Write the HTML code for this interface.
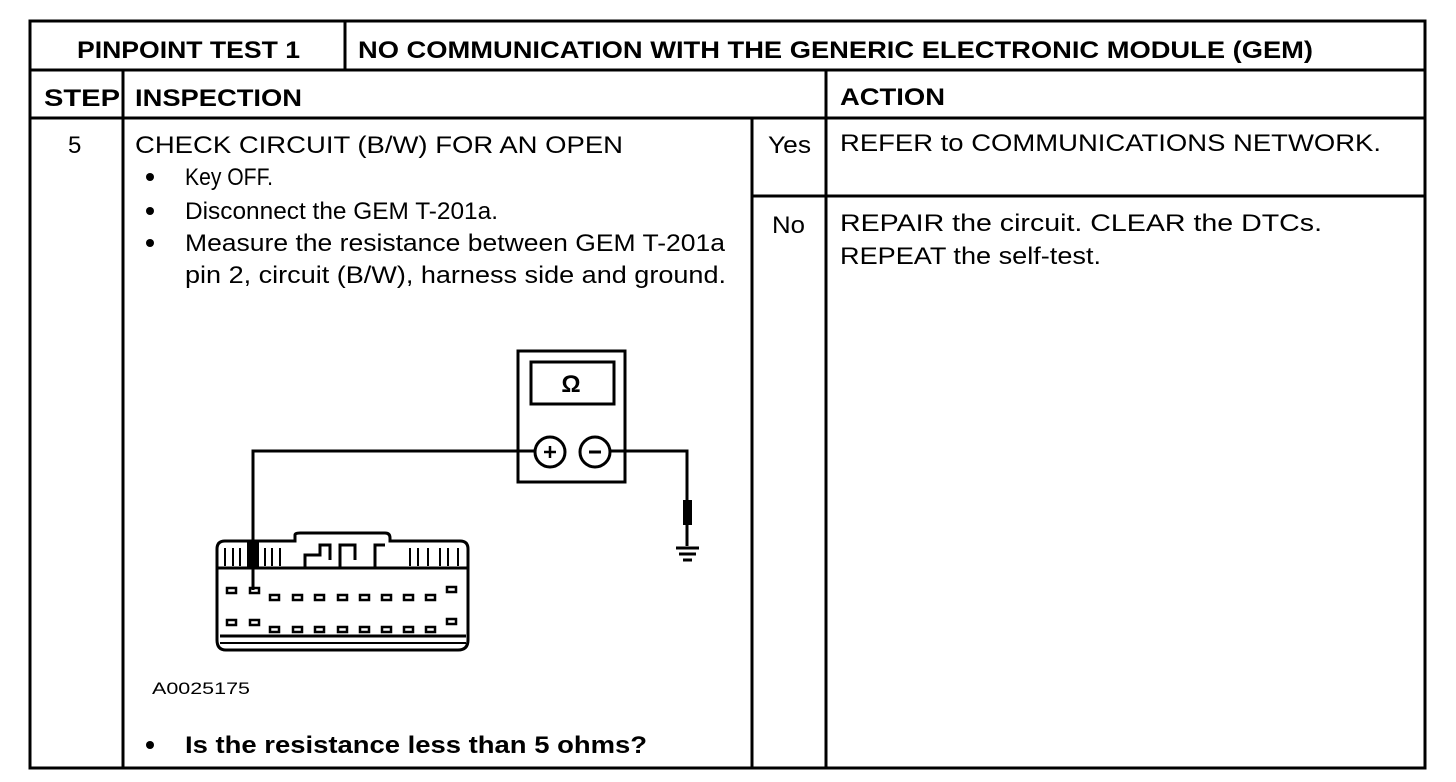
<!DOCTYPE html>
<html><head><style>
html,body{margin:0;padding:0;background:#fff;}
svg{display:block;}
text{font-family:"Liberation Sans",Arial,sans-serif;fill:#000;}
.b{font-weight:bold;}
</style></head><body>
<svg width="1456" height="782" viewBox="0 0 1456 782" xmlns="http://www.w3.org/2000/svg">
<g stroke="#000" stroke-width="3" fill="none">
<rect x="30" y="21" width="1395" height="747"/>
<line x1="30" y1="70" x2="1425" y2="70"/>
<line x1="30" y1="118" x2="1425" y2="118"/>
<line x1="345" y1="21" x2="345" y2="70"/>
<line x1="123" y1="70" x2="123" y2="768"/>
<line x1="826" y1="70" x2="826" y2="768"/>
<line x1="752" y1="118" x2="752" y2="768"/>
<line x1="752" y1="196" x2="1425" y2="196"/>
</g>
<g font-size="24" lengthAdjust="spacingAndGlyphs">
<text x="77" y="58" class="b" textLength="223" lengthAdjust="spacingAndGlyphs">PINPOINT TEST 1</text>
<text x="358" y="58" class="b" textLength="955" lengthAdjust="spacingAndGlyphs">NO COMMUNICATION WITH THE GENERIC ELECTRONIC MODULE (GEM)</text>
<text x="44" y="106" class="b" textLength="76" lengthAdjust="spacingAndGlyphs">STEP</text>
<text x="135" y="106" class="b" textLength="167" lengthAdjust="spacingAndGlyphs">INSPECTION</text>
<text x="840" y="105" class="b" textLength="105" lengthAdjust="spacingAndGlyphs">ACTION</text>
<text x="68" y="153">5</text>
<text x="135" y="153" textLength="488" lengthAdjust="spacingAndGlyphs">CHECK CIRCUIT (B/W) FOR AN OPEN</text>
<text x="185" y="185" textLength="88" lengthAdjust="spacingAndGlyphs">Key OFF.</text>
<text x="185" y="219" textLength="313" lengthAdjust="spacingAndGlyphs">Disconnect the GEM T-201a.</text>
<text x="185" y="251" textLength="540" lengthAdjust="spacingAndGlyphs">Measure the resistance between GEM T-201a</text>
<text x="185" y="283" textLength="541" lengthAdjust="spacingAndGlyphs">pin 2, circuit (B/W), harness side and ground.</text>
<text x="768" y="153" textLength="43" lengthAdjust="spacingAndGlyphs">Yes</text>
<text x="772" y="233" textLength="33" lengthAdjust="spacingAndGlyphs">No</text>
<text x="840" y="151" textLength="541" lengthAdjust="spacingAndGlyphs">REFER to COMMUNICATIONS NETWORK.</text>
<text x="840" y="231" textLength="482" lengthAdjust="spacingAndGlyphs">REPAIR the circuit.  CLEAR the DTCs.</text>
<text x="840" y="264" textLength="261" lengthAdjust="spacingAndGlyphs">REPEAT the self-test.</text>
<text x="185" y="753" class="b" textLength="462" lengthAdjust="spacingAndGlyphs">Is the resistance less than 5 ohms?</text>
</g>
<text x="152" y="694" font-size="17" textLength="98" lengthAdjust="spacingAndGlyphs">A0025175</text>
<g fill="#000">
<circle cx="150" cy="177" r="4"/><circle cx="150" cy="211" r="4"/><circle cx="150" cy="243" r="4"/><circle cx="150" cy="745" r="4"/>
</g>
<!-- meter -->
<g stroke="#000" fill="none" stroke-width="3">
<rect x="518" y="351" width="107" height="131"/>
<rect x="531" y="362" width="83" height="42"/>
<circle cx="550" cy="452" r="15"/>
<circle cx="595" cy="452" r="15"/>
<polyline points="535,451 253,451 253,590"/>
<polyline points="610,451 687,451 687,502"/>
<line x1="687" y1="525" x2="687" y2="546"/>
<line x1="676" y1="548" x2="699" y2="548"/>
<line x1="679" y1="554" x2="696" y2="554"/>
<line x1="683" y1="560" x2="692" y2="560"/>
<line x1="544" y1="452" x2="556" y2="452" stroke-width="2.5"/>
<line x1="550" y1="446" x2="550" y2="458" stroke-width="2.5"/>
<line x1="589" y1="452" x2="601" y2="452" stroke-width="3"/>
</g>
<rect x="683" y="500" width="9" height="25" fill="#000"/>
<text x="571" y="392" font-size="24" class="b" text-anchor="middle" font-family="Liberation Serif">Ω</text>
<!-- connector -->
<g stroke="#000" fill="none" stroke-width="3">
<path d="M225,541 H295 V535 Q295,533 300,533 H385 Q390,533 390,538 V541 H460 Q468,541 468,549 V640 Q468,650 458,650 H226 Q217,650 217,640 V549 Q217,541 225,541 Z"/>
<line x1="218" y1="568" x2="467" y2="568"/>
<path d="M305,568 V555 H320 V545 H330 V560 M340,568 V545 H355 V560 M375,568 V545 H385"/>
<line x1="220" y1="636" x2="466" y2="636"/>
<line x1="220" y1="643" x2="466" y2="643" stroke-width="2"/>
</g>
<g stroke="#000" fill="none" stroke-width="2">
<path d="M225,548 V566 M233,548 V566 M240,548 V566 M265,548 V566 M272,548 V566 M280,548 V566 M410,548 V566 M418,548 V566 M428,548 V566 M440,548 V566 M448,548 V566 M458,548 V566"/>
</g>
<rect x="247" y="541" width="12" height="27" fill="#000"/>
<g stroke="#000" fill="none" stroke-width="2.5">
<rect x="227" y="588" width="9" height="5"/><rect x="250" y="588" width="9" height="5"/>
<rect x="270" y="595" width="9" height="5"/><rect x="293" y="595" width="9" height="5"/><rect x="315" y="595" width="9" height="5"/><rect x="338" y="595" width="9" height="5"/><rect x="360" y="595" width="9" height="5"/><rect x="382" y="595" width="9" height="5"/><rect x="404" y="595" width="9" height="5"/><rect x="426" y="595" width="9" height="5"/>
<rect x="447" y="587" width="9" height="5"/>
<rect x="227" y="620" width="9" height="5"/><rect x="250" y="620" width="9" height="5"/>
<rect x="270" y="627" width="9" height="5"/><rect x="293" y="627" width="9" height="5"/><rect x="315" y="627" width="9" height="5"/><rect x="338" y="627" width="9" height="5"/><rect x="360" y="627" width="9" height="5"/><rect x="382" y="627" width="9" height="5"/><rect x="404" y="627" width="9" height="5"/><rect x="426" y="627" width="9" height="5"/>
<rect x="447" y="619" width="9" height="5"/>
</g>
</svg>
</body></html>
